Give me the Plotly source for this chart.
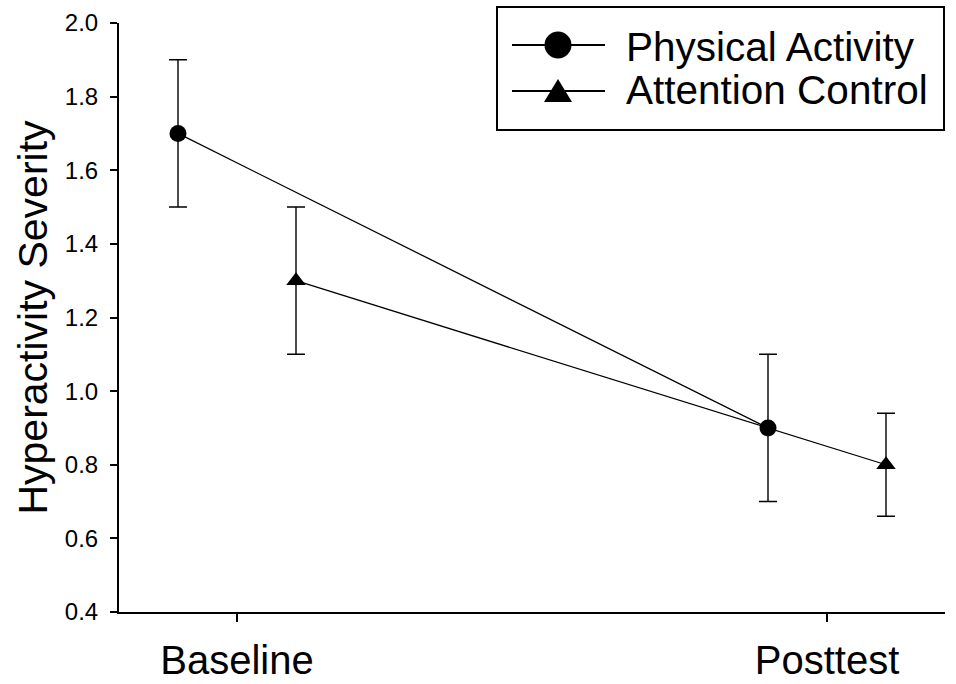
import plotly.graph_objects as go

# ---- data ----
timepoints = ["Baseline", "Posttest"]
series_names = ["Physical Activity", "Attention Control"]
pa_mean = [1.7, 0.9]
pa_err = [0.2, 0.2]
ac_mean = [1.3, 0.8]
ac_err = [0.2, 0.14]
y_ticks = [0.4, 0.6, 0.8, 1.0, 1.2, 1.4, 1.6, 1.8, 2.0]

W, H = 956, 684
L, R, T, B = 119, 11, 23, 72
PW, PH = W - L - R, H - T - B

FONT = "Arial, Liberation Sans, Helvetica, sans-serif"

def px(x):
    return (x - L) / PW

def py(y):
    return (H - B - y) / PH

base = list(range(len(timepoints)))
offset = 0.1

fig = go.Figure()
fig.add_trace(go.Scatter(
    x=[b - offset for b in base], y=pa_mean, name=series_names[0],
    mode="lines+markers",
    line=dict(color="black", width=1.3),
    marker=dict(symbol="circle", size=17, color="black"),
    error_y=dict(type="data", array=pa_err, visible=True, color="black", thickness=1.4, width=9),
    showlegend=False,
))
fig.add_trace(go.Scatter(
    x=[b + offset for b in base], y=ac_mean, name=series_names[1],
    mode="lines+markers",
    line=dict(color="black", width=1.3),
    marker=dict(symbol="triangle-up", size=17, color="black"),
    error_y=dict(type="data", array=ac_err, visible=True, color="black", thickness=1.4, width=9),
    showlegend=False,
))

# ---- custom legend (box, sample lines, symbols, labels) ----
shapes = []
shapes.append(dict(type="rect", xref="paper", yref="paper",
                   x0=px(497), x1=px(944), y0=py(130), y1=py(7),
                   line=dict(color="black", width=2), fillcolor="white", layer="above"))
rows = [45, 91]
for yy in rows:
    shapes.append(dict(type="line", xref="paper", yref="paper",
                       x0=px(512), x1=px(605), y0=py(yy), y1=py(yy),
                       line=dict(color="black", width=2), layer="above"))
shapes.append(dict(type="circle", xref="paper", yref="paper",
                   x0=px(558 - 13.5), x1=px(558 + 13.5), y0=py(45 + 13.5), y1=py(45 - 13.5),
                   fillcolor="black", line=dict(color="black", width=0), layer="above"))
tri = "M {} {} L {} {} L {} {} Z".format(px(544), py(102), px(572), py(102), px(558), py(79))
shapes.append(dict(type="path", xref="paper", yref="paper", path=tri,
                   fillcolor="black", line=dict(color="black", width=0), layer="above"))

annotations = []
for name, yy in zip(series_names, [47, 90]):
    annotations.append(dict(text=name, xref="paper", yref="paper", x=px(624), y=py(yy),
                            xanchor="left", yanchor="middle", showarrow=False,
                            font=dict(family=FONT, size=40.5, color="black")))

fig.update_layout(
    width=W, height=H,
    margin=dict(l=L, r=R, t=T, b=B, autoexpand=False),
    paper_bgcolor="white", plot_bgcolor="white",
    font=dict(family=FONT, color="black"),
    shapes=shapes, annotations=annotations,
    xaxis=dict(range=[-0.2, 1.2], tickmode="array", tickvals=base, ticktext=timepoints,
               showline=True, linecolor="black", linewidth=2, ticks="outside",
               ticklen=8, tickwidth=1.5, tickcolor="black", showgrid=False, zeroline=False,
               automargin=False,
               tickfont=dict(size=40, family=FONT), ticklabelstandoff=4),
    yaxis=dict(range=[0.4, 2.0], tickmode="array", tickvals=y_ticks,
               ticktext=[f"{v:.1f}" for v in y_ticks],
               showline=True, linecolor="black", linewidth=2, ticks="outside",
               ticklen=7, tickwidth=1.5, tickcolor="black", showgrid=False, zeroline=False,
               automargin=False,
               tickfont=dict(size=24, family=FONT), ticklabelstandoff=7,
               title=dict(text="Hyperactivity Severity", font=dict(size=41, family=FONT), standoff=4)),
)

fig.write_html("out.html")
